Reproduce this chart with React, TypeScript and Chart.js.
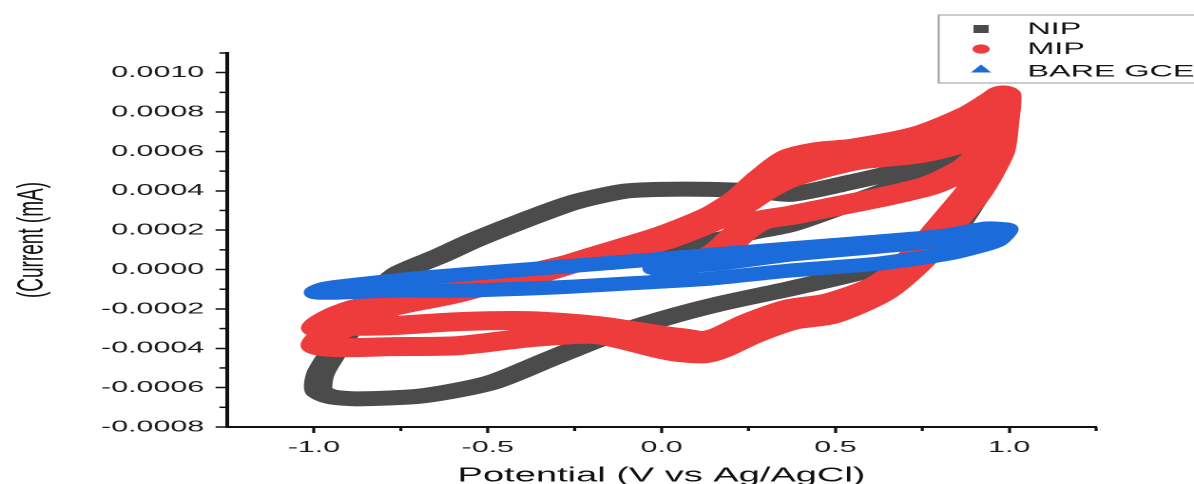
import React, { useEffect, useRef } from 'react';
import { Chart, registerables } from 'chart.js';
Chart.register(...registerables);

// ---- canvas geometry (the reference is horizontally stretched ~1.9x) ----
const W = 628;
const H = 484;
const S = 1194 / W;

// ---- tick values ----
const xTicks = [-1.0, -0.5, 0.0, 0.5, 1.0];
const xMinorTicks = [-0.75, -0.25, 0.25, 0.75, 1.25];
const yTicks = [-0.0008, -0.0006, -0.0004, -0.0002, 0.0, 0.0002, 0.0004, 0.0006, 0.0008, 0.001];
const yMinorTicks = [-0.0007, -0.0005, -0.0003, -0.0001, 0.0001, 0.0003, 0.0005, 0.0007, 0.0009, 0.0011];

const seriesNames = ['NIP', 'MIP', 'BARE GCE'];

// ---- NIP (start sweep, reverse sweep, forward sweep) ----
const nipPotential = [
  -0.147, 0.0, 0.112, 0.256, 0.371, 0.543, 0.687, 0.83, 0.945, 0.983,
  0.974, 0.945, 0.899, 0.848, 0.787, 0.701, 0.572, 0.371, 0.17, 0.006, -0.175, -0.319, -0.491, -0.684, -0.874, -0.951, -0.986,
  -0.98, -0.922, -0.865, -0.807, -0.75, -0.635, -0.54, -0.397, -0.253, -0.109, 0.0, 0.141, 0.284, 0.371, 0.543, 0.687, 0.83, 0.931, 0.983,
];
const nipCurrent = [
  0.000036, 0.000097, 0.000132, 0.000188, 0.000229, 0.000336, 0.000428, 0.000539, 0.000646, 0.000707,
  0.000631, 0.000494, 0.000361, 0.000224, 0.000122, 0.000046, -0.000015, -0.000097, -0.000173, -0.000249, -0.000351, -0.000453, -0.000575, -0.000641, -0.000657, -0.000646, -0.000616,
  -0.000524, -0.000361, -0.000199, -0.000097, -0.000015, 0.000071, 0.000148, 0.000249, 0.000341, 0.000397, 0.000407, 0.000407, 0.000397, 0.000382, 0.000443, 0.000504, 0.000596, 0.000667, 0.000707,
];

// ---- MIP (start sweep, cycle A reverse/forward, cycle B reverse/forward) ----
const mipStartPotential = [0.112, 0.17, 0.227, 0.284, 0.371, 0.486, 0.629, 0.773, 0.888, 0.96, 0.983];
const mipStartCurrent = [0.000036, 0.000097, 0.000188, 0.000249, 0.000275, 0.000316, 0.000366, 0.000428, 0.000529, 0.000682, 0.00086];
const mipRevAPotential = [0.983, 0.977, 0.966, 0.934, 0.897, 0.822, 0.744, 0.629, 0.486, 0.371, 0.256, 0.17, 0.121, 0.055, 0.006, -0.184, -0.376, -0.586, -0.779, -0.922, -0.986];
const mipRevACurrent = [0.000886, 0.000758, 0.000621, 0.000504, 0.000402, 0.000244, 0.000087, -0.000076, -0.000168, -0.000199, -0.00027, -0.000341, -0.000361, -0.000346, -0.000336, -0.000285, -0.00026, -0.000265, -0.000285, -0.00029, -0.000295];
const mipFwdAPotential = [-0.937, -0.874, -0.684, -0.52, -0.376, -0.184, 0.006, 0.149, 0.227, 0.293, 0.371, 0.457, 0.552, 0.744, 0.888, 0.96, 0.983];
const mipFwdACurrent = [-0.000239, -0.000199, -0.000132, -0.000081, -0.000031, 0.000071, 0.000173, 0.000275, 0.000361, 0.000463, 0.000565, 0.000601, 0.000616, 0.000682, 0.000784, 0.00086, 0.000886];
const mipRevBPotential = [0.977, 0.966, 0.934, 0.897, 0.822, 0.744, 0.629, 0.486, 0.371, 0.256, 0.17, 0.121, 0.055, 0.006, -0.184, -0.376, -0.586, -0.779, -0.922, -0.986];
const mipRevBCurrent = [0.000748, 0.000606, 0.000489, 0.000382, 0.000219, 0.000056, -0.000117, -0.000229, -0.00026, -0.000331, -0.000402, -0.000428, -0.000422, -0.000407, -0.000331, -0.000346, -0.000387, -0.000392, -0.000397, -0.000387];
const mipFwdBPotential = [-0.966, -0.908, -0.787, -0.606, -0.376, -0.184, 0.006, 0.149, 0.227, 0.293, 0.371, 0.552, 0.744, 0.888, 0.96, 0.983];
const mipFwdBCurrent = [-0.000341, -0.00029, -0.000193, -0.000127, -0.00002, 0.000061, 0.000148, 0.000249, 0.000325, 0.000402, 0.000468, 0.000552, 0.00059, 0.000662, 0.000784, 0.00087];

// ---- BARE GCE (start sweep, reverse sweep, forward sweep) ----
const bareStartPotential = [-0.017, 0.17, 0.371, 0.629, 0.83, 0.96, 0.989];
const bareStartCurrent = [0.000005, 0.000031, 0.000076, 0.000117, 0.000153, 0.000193, 0.000204];
const bareRevPotential = [0.96, 0.917, 0.822, 0.629, 0.371, 0.141, 0.0, -0.319, -0.586, -0.779, -0.922, -0.991];
const bareRevCurrent = [0.000148, 0.000122, 0.000081, 0.000031, -0.000005, -0.000046, -0.000061, -0.000092, -0.000107, -0.000107, -0.000117, -0.000117];
const bareFwdPotential = [-0.966, -0.874, -0.684, -0.319, -0.023, 0.371, 0.629, 0.822, 0.937, 0.989];
const bareFwdCurrent = [-0.000097, -0.000076, -0.000041, 0.00001, 0.000051, 0.000107, 0.000143, 0.000173, 0.000209, 0.000204];

const COLORS = ['#4b4b4b', '#ee3b3c', '#1b6bdb'];

const toPts = (xs: number[], ys: number[]) => xs.map((x, i) => ({ x, y: ys[i] }));

const FONT = 'Liberation Sans, Arial, Helvetica, sans-serif';

export default function App() {
  const ref = useRef<HTMLCanvasElement>(null);

  useEffect(() => {
    document.body.style.margin = '0';
    const canvas = ref.current!;

    const nipData = toPts(nipPotential, nipCurrent);
    const mipData = [
      ...toPts(mipStartPotential, mipStartCurrent),
      ...toPts(mipRevAPotential, mipRevACurrent),
      ...toPts(mipFwdAPotential, mipFwdACurrent),
      ...toPts(mipRevBPotential, mipRevBCurrent),
      ...toPts(mipFwdBPotential, mipFwdBCurrent),
    ];
    const bareData = [
      ...toPts(bareStartPotential, bareStartCurrent),
      ...toPts(bareRevPotential, bareRevCurrent),
      ...toPts(bareFwdPotential, bareFwdCurrent),
    ];

    const decor = {
      id: 'decor',
      afterDraw(chart: any) {
        const { ctx, scales } = chart;
        const x = scales.x;
        const y = scales.y;
        const area = chart.chartArea;
        ctx.save();
        ctx.strokeStyle = '#111';
        ctx.lineWidth = 1.6;
        xMinorTicks.forEach((v) => {
          const px = x.getPixelForValue(v);
          ctx.beginPath();
          ctx.moveTo(px, area.bottom);
          ctx.lineTo(px, area.bottom + 4);
          ctx.stroke();
        });
        ctx.lineWidth = 1.5;
        yMinorTicks.forEach((v) => {
          const py = y.getPixelForValue(v);
          ctx.beginPath();
          ctx.moveTo(area.left, py);
          ctx.lineTo(area.left - 4, py);
          ctx.stroke();
        });

        // legend box
        const bx = 493.7;
        const by = 15;
        ctx.fillStyle = '#ffffff';
        ctx.fillRect(bx, by, 200, 68);
        ctx.strokeStyle = '#9a9a9a';
        ctx.lineWidth = 1;
        ctx.strokeRect(bx, by, 200, 68);

        const mx = 516;
        ctx.fillStyle = COLORS[0];
        ctx.fillRect(mx - 4, 29 - 4, 8, 8);
        ctx.fillStyle = COLORS[1];
        ctx.beginPath();
        ctx.arc(mx, 49, 4.6, 0, Math.PI * 2);
        ctx.fill();
        ctx.fillStyle = COLORS[2];
        ctx.beginPath();
        ctx.moveTo(mx, 64.5);
        ctx.lineTo(mx + 5.4, 72.5);
        ctx.lineTo(mx - 5.4, 72.5);
        ctx.closePath();
        ctx.fill();

        ctx.fillStyle = '#111';
        ctx.font = `17px ${FONT}`;
        ctx.textBaseline = 'alphabetic';
        ctx.textAlign = 'left';
        const baselines = [34.2, 54, 76.5];
        seriesNames.forEach((n, i) => ctx.fillText(n, 540.4, baselines[i]));
        ctx.restore();
      },
    };

    const common = {
      showLine: true,
      pointRadius: 0,
      pointHoverRadius: 0,
      tension: 0.25,
      borderJoinStyle: 'round',
      borderCapStyle: 'round',
      fill: false,
    };

    const chart = new Chart(canvas, {
      type: 'scatter',
      data: {
        datasets: [
          { ...common, label: seriesNames[0], data: nipData, borderColor: COLORS[0], backgroundColor: COLORS[0], borderWidth: 15, order: 2 },
          { ...common, label: seriesNames[1], data: mipData, borderColor: COLORS[1], backgroundColor: COLORS[1], borderWidth: 19, order: 1 },
          { ...common, label: seriesNames[2], data: bareData, borderColor: COLORS[2], backgroundColor: COLORS[2], borderWidth: 14, order: 0 },
        ] as any,
      },
      plugins: [decor],
      options: {
        responsive: false,
        animation: false,
        devicePixelRatio: 2,
        layout: { padding: { top: 53, right: W - 576.5, bottom: 0, left: 0 } },
        plugins: {
          legend: { display: false },
          tooltip: { enabled: false },
        },
        scales: {
          x: {
            type: 'linear',
            position: 'bottom',
            min: -1.25,
            max: 1.25,
            afterBuildTicks: (axis: any) => {
              axis.ticks = xTicks.map((v) => ({ value: v }));
            },
            afterFit: (axis: any) => {
              axis.height = H - 427;
            },
            border: { display: true, color: '#111', width: 2 },
            grid: { display: true, drawOnChartArea: false, drawTicks: true, tickLength: 6, tickColor: '#111', tickWidth: 1.6 },
            ticks: {
              padding: 5,
              color: '#1a1a1a',
              font: { family: FONT, size: 16 },
              maxRotation: 0,
              callback: (v: any) => Number(v).toFixed(1),
            },
            title: {
              display: true,
              text: 'Potential (V vs Ag/AgCl)',
              color: '#111',
              font: { family: FONT, size: 20 },
              padding: { top: 0, bottom: -4 },
            },
          },
          y: {
            type: 'linear',
            position: 'left',
            min: -0.0008,
            max: 0.0011,
            afterBuildTicks: (axis: any) => {
              axis.ticks = yTicks.map((v) => ({ value: v }));
            },
            afterFit: (axis: any) => {
              axis.width = 119.4;
            },
            border: { display: true, color: '#111', width: 2 },
            grid: { display: true, drawOnChartArea: false, drawTicks: true, tickLength: 6, tickColor: '#111', tickWidth: 1.5 },
            ticks: {
              padding: 6,
              color: '#1a1a1a',
              font: { family: FONT, size: 16 },
              callback: (v: any) => (Math.abs(Number(v)) < 1e-12 ? '0.0000' : Number(v).toFixed(4)),
            },
            title: {
              display: true,
              text: '(Current (mA)',
              color: '#111',
              font: { family: FONT, size: 19 },
              padding: { top: 6, bottom: 0 },
            },
          },
        },
      } as any,
    });

    return () => chart.destroy();
  }, []);

  return (
    <div style={{ width: 1194, height: H, overflow: 'hidden', background: '#ffffff', position: 'relative' }}>
      <div style={{ width: W, height: H, transform: `scaleX(${S})`, transformOrigin: '0 0' }}>
        <canvas ref={ref} width={W} height={H} style={{ width: W, height: H, display: 'block' }} />
      </div>
    </div>
  );
}
